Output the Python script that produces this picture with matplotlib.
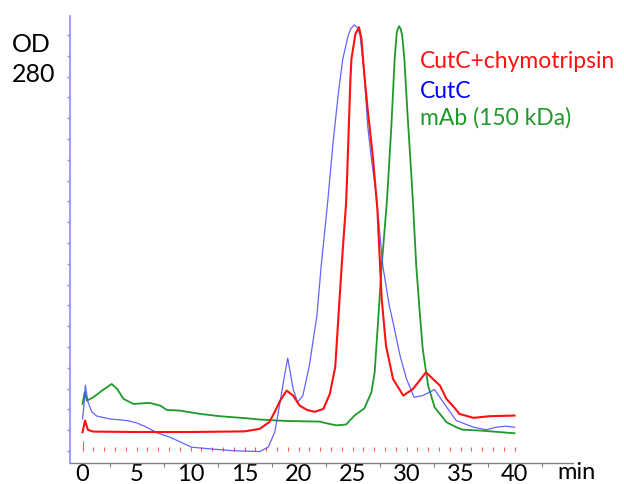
import matplotlib.pyplot as plt

# --- 数据 (从图中读取, 时间 min, OD280 任意单位) ---
red_t = [0.0, 0.23, 0.5, 1.0, 5.0, 10.0, 15.0, 16.4, 17.3, 17.8, 18.3, 18.9, 19.5, 20.1, 20.8,
         21.5, 22.3, 22.9, 23.4, 23.8, 24.1, 24.4, 24.5, 24.65, 24.8, 24.9, 25.27, 25.6, 25.83,
         26.1, 26.4, 26.9, 27.3, 27.7, 28.1, 28.75, 29.7, 30.6, 31.8, 33.1, 33.7, 34.3, 34.9,
         36.2, 37.7, 40.0]
red_od = [9.0, 14.6, 10.1, 9.3, 9.1, 9.1, 9.4, 10.6, 13.9, 18.8, 24.2, 29.0, 26.6, 21.8, 19.7,
          18.8, 20.2, 27.4, 40.4, 73.1, 97.1, 118.8, 132.0, 155.0, 178.0, 188.5, 200.5, 203.7, 198.0,
          180.4, 164.4, 140.4, 116.3, 73.1, 50.6, 34.6, 26.6, 29.8, 37.8, 31.4, 25.0, 21.6, 17.8,
          15.9, 16.7, 17.0]

blue_t = [0.0, 0.14, 0.26, 0.5, 0.85, 1.3, 2.5, 4.1, 5.0, 5.9, 6.9, 8.1, 10.1, 11.8, 13.95,
          16.4, 17.2, 17.8, 18.3, 18.7, 19.0, 19.5, 19.9, 20.4, 21.0, 21.7, 22.1, 22.7, 23.2,
          23.7, 24.1, 24.6, 24.85, 25.15, 25.45, 25.7, 26.1, 26.4, 26.75, 27.2, 27.4, 27.8, 28.4,
          28.75, 29.4, 30.0, 30.7, 31.5, 32.6, 33.4, 34.6, 36.2, 37.4, 38.3, 39.2, 40.0]
blue_od = [15.4, 22.6, 31.7, 23.6, 18.8, 16.8, 15.4, 14.6, 13.5, 11.5, 8.7, 6.6, 1.8, 1.0, 0.1,
           -0.3, 1.8, 9.1, 23.6, 36.2, 44.6, 29.8, 23.4, 26.6, 41.0, 65.0, 89.1, 119.7, 148.4,
           172.5, 188.5, 199.7, 203.0, 204.8, 203.5, 199.7, 180.4, 156.4, 140.4, 122.7, 111.5, 89.1, 69.9,
           61.9, 45.8, 34.6, 25.8, 26.6, 29.5, 23.4, 14.6, 11.4, 10.2, 11.4, 11.9, 11.4]

green_t = [0.0, 0.2, 0.4, 1.0, 1.8, 2.7, 3.2, 3.8, 4.7, 6.2, 7.2, 7.8, 9.0, 10.9, 12.7, 15.2,
           16.4, 18.9, 22.0, 22.4, 23.5, 24.4, 25.2, 26.1, 26.75, 27.05, 27.4, 27.7, 28.0, 28.2,
           28.6, 28.9, 29.1, 29.3, 29.45, 29.6, 29.8, 30.1, 30.45, 30.6, 30.9, 31.2, 31.5, 32.0,
           32.6, 33.7, 34.6, 35.2, 36.8, 40.0]
green_od = [22.6, 28.2, 24.2, 25.8, 29.0, 32.2, 29.8, 25.0, 22.6, 23.1, 21.8, 19.7, 19.4, 17.8, 16.7, 15.7,
            15.1, 14.4, 14.1, 13.5, 12.3, 12.7, 17.1, 20.5, 28.2, 37.8, 65.0, 89.1, 108.3, 121.2,
            156.4, 188.5, 201.3, 204.2, 203.0, 199.7, 188.5, 161.2, 132.4, 118.8, 89.1, 68.3, 49.0, 31.4,
            21.0, 13.8, 11.4, 10.2, 9.8, 8.5]

# 馏分收集标记 (每分钟一个)
fraction_t = list(range(1, 41))

x_ticks = [0, 5, 10, 15, 20, 25, 30, 35, 40]
legend_labels = ['CutC+chymotripsin', 'CutC', 'mAb (150 kDa)']

RED = '#ff1010'
BLUE = '#4848ff'
GREEN = '#1f9a2a'

plt.rcParams['font.family'] = ['Lato', 'DejaVu Sans']

fig = plt.figure(figsize=(6.24, 4.85), dpi=100)
ax = fig.add_axes([0.1122, 0.0433, 0.8058, 0.9217])

ax.plot(green_t, green_od, color=GREEN, lw=1.3)
ax.plot(blue_t, blue_od, color=BLUE, lw=0.9, alpha=0.85)
ax.plot(red_t, red_od, color=RED, lw=1.5)

# 馏分标记
ax.vlines(fraction_t, 0.2, 1.8, color=RED, lw=0.8, alpha=0.7)
ax.vlines([0], 0.2, 5.0, color=RED, lw=0.8, alpha=0.7)

ax.set_xlim(-1.16, 45.4)
ax.set_ylim(-5.8, 209.1)

ax.spines['top'].set_visible(False)
ax.spines['right'].set_visible(False)
ax.spines['left'].set_color('#8c8cff')
ax.spines['left'].set_linewidth(1.2)
ax.spines['bottom'].set_color('#808080')
ax.spines['bottom'].set_linewidth(1.0)

ax.set_yticks(range(0, 201, 10))
ax.set_yticklabels([])
ax.tick_params(axis='y', direction='out', length=2, width=1, color='#8c8cff')

ax.set_xticks(x_ticks)
ax.set_xticklabels([str(v) for v in x_ticks], fontsize=17)
ax.set_xticks([2.5, 7.5, 12.5, 17.5, 22.5, 27.5, 32.5, 37.5, 42.5], minor=True)
ax.tick_params(axis='x', which='major', length=0, pad=0)
ax.tick_params(axis='x', which='minor', direction='out', length=3, width=0.8, color='#808080')

fig.text(557 / 624, 1 - 473 / 485, 'min', fontsize=17, ha='left', va='center')
fig.text(12 / 624, 1 - 45 / 485, 'OD', fontsize=18, ha='left', va='center')
fig.text(12 / 624, 1 - 75 / 485, '280', fontsize=18, ha='left', va='center')

for lbl, col, ypix in zip(legend_labels, [RED, '#0000ff', GREEN], [62, 92, 118]):
    fig.text(420 / 624, 1 - ypix / 485, lbl, color=col, fontsize=16.5, ha='left', va='center')

fig.savefig('out.png', dpi=100)
